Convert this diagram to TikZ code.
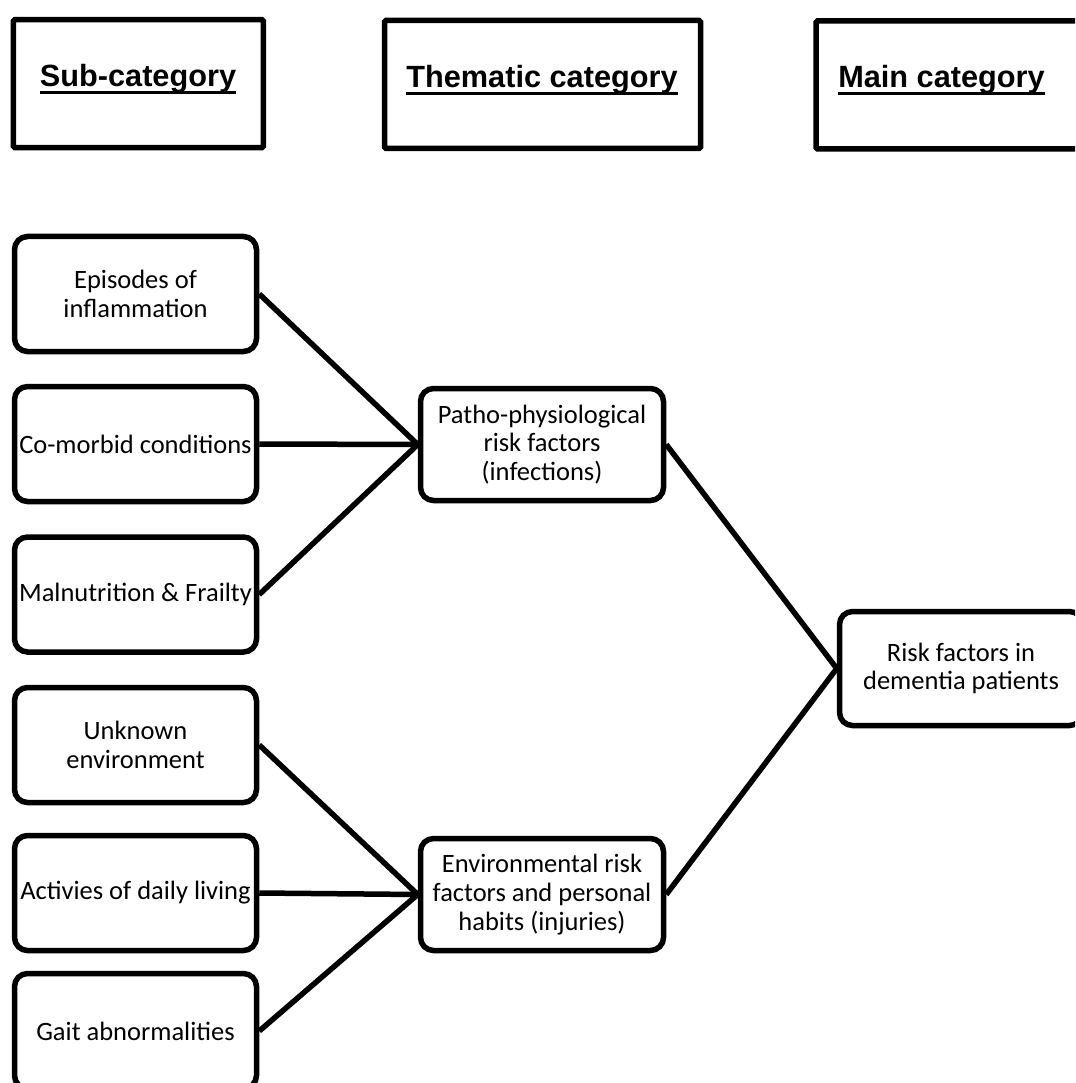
\documentclass[tikz,border=0pt]{standalone}
\usepackage{fontspec}
\setmainfont{Carlito}
\newfontfamily\hdrfont{Liberation Sans}
% bold heading with a heavy underline
\newcommand\hdrtitle[1]{\setbox0=\hbox{\hdrfont\bfseries #1}\copy0\kern-\wd0\rule[-7.5pt]{\wd0}{3.4pt}}
\tikzset{
  hdrbox/.style={draw, line width=5.5pt, rounded corners=1.5pt, minimum height=128pt, inner sep=0pt},
  hdrtext/.style={anchor=base, inner sep=0pt, font=\fontsize{30.7pt}{34pt}\selectfont},
  itembox/.style={draw, line width=5.5pt, rounded corners=13pt, minimum width=242pt, minimum height=115pt,
                  align=center, inner sep=0pt, font=\fontsize{26.5pt}{29pt}\selectfont},
  themebox/.style={itembox, minimum width=243pt, minimum height=112pt, font=\fontsize{26.5pt}{28.6pt}\selectfont},
  mainbox/.style={itembox, minimum width=243pt, minimum height=114pt, font=\fontsize{26.5pt}{28.2pt}\selectfont},
  link/.style={line width=5.5pt}
}
\begin{document}
\begin{tikzpicture}[x=1pt, y=-1pt]
\useasboundingbox (0,0) rectangle (1075,1083);
\clip (0,0) rectangle (1075,1083);

% column headings
\node[hdrbox, minimum width=250pt] (h1) at (138.4,83.7) {};
\node[hdrbox, minimum width=316pt] (h2) at (542.5,84.5) {};
\node[hdrbox, minimum width=274pt] (h3) at (953,84.9) {};
\node[hdrtext] (h1t) at (138,87) {\hdrtitle{Sub-category}};
\node[hdrtext] (h2t) at (542,87.5) {\hdrtitle{Thematic category}};
\node[hdrtext] (h3t) at (941.5,87.5) {\hdrtitle{Main category}};

% sub-categories
\node[itembox] (s1) at (135.5,294) {Episodes of\\inflammation};
\node[itembox] (s2) at (135.5,444) {Co-morbid conditions};
\node[itembox] (s3) at (135.5,594.5) {Malnutrition \& Frailty};
\node[itembox] (s4) at (135.5,745) {Unknown\\environment};
\node[itembox] (s5) at (135.5,893) {Activies of daily living};
\node[itembox] (s6) at (135.5,1031) {Gait abnormalities};

% thematic categories
\node[themebox] (t1) at (542,444.5) {Patho-physiological\\risk factors\\(infections)};
\node[themebox] (t2) at (542,894.5) {Environmental risk\\factors and personal\\habits (injuries)};

% main category
\node[mainbox] (m) at (961,668.5) {Risk factors in\\dementia patients};

% connectors
\draw[link] (s1.east) -- (t1.west);
\draw[link] (s2.east) -- (t1.west);
\draw[link] (s3.east) -- (t1.west);
\draw[link] (s4.east) -- (t2.west);
\draw[link] (s5.east) -- (t2.west);
\draw[link] (s6.east) -- (t2.west);
\draw[link] (t1.east) -- (m.west);
\draw[link] (t2.east) -- (m.west);
\end{tikzpicture}
\end{document}
